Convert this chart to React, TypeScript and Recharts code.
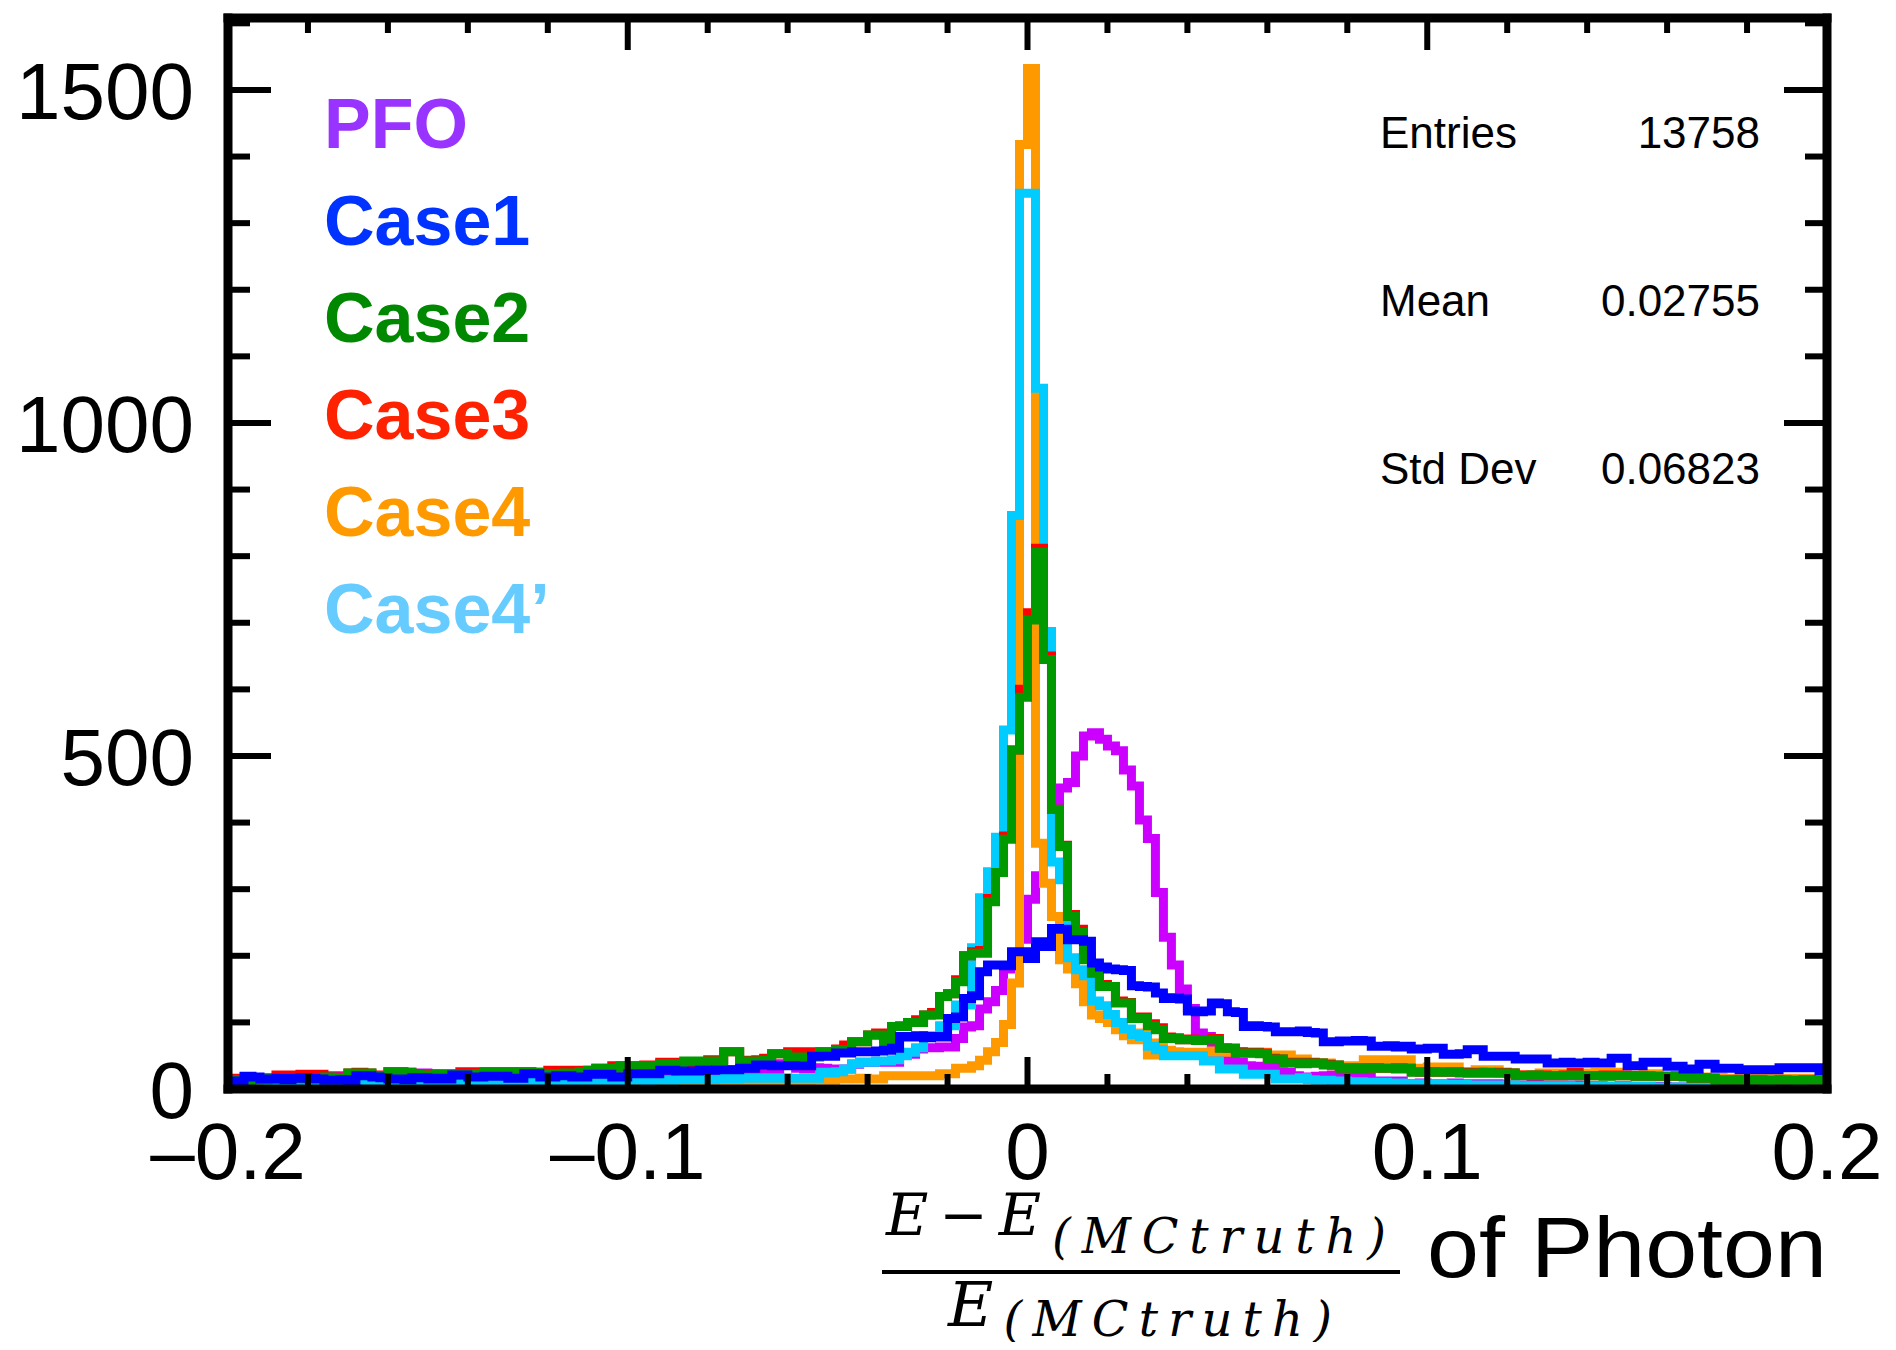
import React from 'react';
import { ComposedChart, Line, XAxis, YAxis } from 'recharts';

// 200 bins of 0.002 from -0.2 to 0.2
const binStart = -0.2;
const binWidth = 0.002;

const pfoCounts = [
  10, 12, 9, 11, 13, 10, 12, 11, 14, 12,
  13, 11, 20, 19, 20, 18, 12, 14, 13, 15,
  14, 16, 15, 24, 24, 22, 15, 17, 16, 18,
  17, 15, 19, 18, 17, 20, 19, 18, 17, 20,
  21, 19, 27, 27, 20, 22, 21, 23, 20, 22,
  21, 23, 22, 24, 23, 25, 24, 22, 24, 26,
  26, 24, 25, 29, 29, 27, 28, 30, 29, 38,
  38, 31, 30, 32, 31, 27, 30, 30, 37, 40,
  40, 41, 40, 40, 52, 52, 60, 62, 62, 63,
  63, 76, 93, 95, 120, 131, 148, 180, 205, 225,
  285, 320, 350, 395, 452, 460, 500, 530, 535, 525,
  515, 508, 479, 455, 404, 376, 295, 228, 186, 150,
  121, 84, 79, 54, 49, 42, 40, 35, 34, 33,
  34, 26, 25, 20, 18, 18, 19, 20, 21, 20,
  19, 18, 18, 12, 12, 11, 12, 8, 8, 9,
  8, 7, 8, 9, 7, 8, 8, 7, 8, 6,
  6, 5, 6, 7, 6, 5, 6, 5, 6, 5,
  4, 5, 4, 3, 5, 4, 4, 3, 4, 4,
  3, 2, 3, 3, 2, 3, 2, 3, 2, 2,
  3, 2, 2, 3, 2, 2, 3, 2, 2, 2,
];

const case1Counts = [
  11, 12, 19, 18, 15, 15, 16, 14, 16, 17,
  16, 15, 13, 13, 14, 12, 20, 20, 18, 17,
  15, 15, 14, 17, 17, 15, 16, 15, 21, 21,
  18, 18, 19, 19, 19, 16, 16, 23, 23, 18,
  18, 20, 20, 18, 18, 22, 22, 22, 18, 18,
  23, 23, 23, 23, 28, 28, 27, 27, 27, 28,
  28, 29, 29, 29, 31, 31, 36, 36, 35, 35,
  35, 35, 35, 49, 49, 49, 54, 54, 56, 56,
  56, 57, 58, 61, 79, 78, 80, 77, 79, 78,
  106, 108, 136, 140, 176, 186, 186, 185, 206, 206,
  196, 221, 214, 241, 240, 224, 224, 222, 189, 183,
  180, 179, 178, 155, 154, 153, 144, 136, 137, 135,
  117, 116, 117, 129, 128, 116, 115, 94, 95, 94,
  93, 86, 86, 86, 87, 85, 84, 71, 71, 72,
  72, 73, 72, 64, 64, 65, 63, 64, 60, 60,
  61, 61, 52, 52, 53, 59, 59, 49, 49, 49,
  49, 45, 45, 45, 45, 39, 39, 40, 39, 39,
  40, 39, 39, 46, 46, 35, 35, 40, 40, 40,
  34, 34, 30, 30, 37, 37, 31, 31, 31, 29,
  29, 29, 29, 29, 32, 32, 32, 32, 32, 27,
];

const case2Counts = [
  14, 14, 13, 15, 14, 16, 15, 17, 16, 15,
  17, 16, 18, 17, 16, 24, 24, 24, 20, 19,
  26, 26, 25, 22, 20, 21, 22, 20, 22, 21,
  22, 23, 26, 26, 25, 26, 26, 26, 25, 22,
  23, 22, 24, 24, 26, 28, 31, 31, 31, 35,
  35, 35, 35, 35, 38, 38, 38, 42, 42, 42,
  42, 42, 56, 56, 42, 42, 42, 43, 53, 53,
  48, 48, 48, 48, 56, 56, 59, 59, 71, 71,
  81, 81, 71, 94, 94, 100, 100, 111, 111, 139,
  143, 161, 200, 204, 204, 281, 325, 375, 509, 588,
  704, 806, 645, 420, 364, 259, 235, 194, 174, 154,
  154, 129, 129, 106, 106, 95, 89, 76, 76, 74,
  74, 73, 74, 74, 61, 61, 54, 54, 54, 53,
  45, 45, 39, 39, 38, 39, 39, 36, 36, 31,
  31, 30, 31, 32, 31, 31, 30, 31, 25, 25,
  25, 26, 25, 25, 24, 24, 24, 25, 24, 24,
  24, 20, 20, 21, 20, 20, 20, 20, 21, 20,
  20, 20, 19, 20, 20, 20, 19, 19, 19, 19,
  19, 19, 18, 16, 16, 16, 13, 13, 14, 13,
  13, 13, 12, 13, 13, 13, 12, 13, 13, 13,
];

const case3Counts = [
  16, 16, 16, 14, 15, 17, 21, 21, 21, 22,
  22, 22, 18, 17, 18, 24, 25, 24, 21, 20,
  26, 26, 25, 23, 21, 22, 23, 21, 23, 26,
  26, 26, 26, 26, 25, 26, 26, 26, 25, 23,
  28, 28, 28, 28, 26, 28, 31, 31, 35, 35,
  35, 35, 36, 36, 40, 40, 40, 38, 41, 41,
  44, 44, 56, 56, 43, 43, 44, 46, 53, 53,
  56, 56, 56, 49, 56, 56, 60, 66, 71, 71,
  81, 84, 75, 94, 95, 100, 104, 111, 115, 139,
  143, 164, 200, 206, 208, 286, 325, 380, 509, 600,
  715, 812, 650, 420, 366, 262, 240, 198, 174, 157,
  154, 132, 130, 106, 108, 98, 92, 78, 77, 74,
  75, 74, 74, 76, 62, 61, 56, 54, 55, 54,
  46, 45, 40, 40, 39, 40, 39, 37, 36, 32,
  31, 32, 31, 32, 31, 31, 32, 31, 26, 25,
  26, 25, 25, 26, 25, 24, 25, 24, 24, 25,
  24, 21, 21, 20, 21, 20, 20, 21, 25, 20,
  20, 20, 21, 20, 21, 20, 19, 20, 19, 19,
  19, 20, 19, 16, 17, 16, 14, 13, 14, 13,
  13, 14, 13, 13, 14, 13, 13, 14, 13, 13,
];

const case4Counts = [
  2, 1, 2, 2, 1, 2, 3, 2, 2, 3,
  2, 3, 2, 3, 3, 2, 3, 4, 3, 3,
  3, 4, 3, 4, 4, 3, 4, 5, 4, 4,
  5, 4, 5, 5, 4, 5, 6, 5, 5, 6,
  5, 6, 6, 5, 6, 7, 6, 6, 7, 7,
  6, 7, 7, 8, 8, 8, 7, 8, 9, 8,
  9, 9, 9, 10, 10, 10, 11, 11, 11, 11,
  10, 10, 10, 13, 13, 13, 15, 15, 15, 16,
  15, 15, 20, 20, 20, 20, 20, 20, 20, 23,
  23, 31, 31, 35, 43, 56, 70, 97, 159, 1418,
  1532, 369, 309, 259, 194, 180, 158, 131, 111, 106,
  100, 89, 80, 74, 84, 51, 69, 58, 56, 55,
  55, 54, 55, 57, 55, 61, 56, 54, 55, 55,
  51, 51, 51, 45, 45, 39, 39, 39, 35, 35,
  35, 35, 44, 44, 44, 44, 44, 44, 31, 31,
  33, 33, 33, 33, 26, 26, 29, 29, 29, 24,
  24, 21, 21, 21, 24, 24, 24, 24, 24, 24,
  24, 25, 25, 25, 21, 21, 21, 23, 23, 19,
  19, 19, 19, 19, 18, 18, 18, 16, 16, 16,
  16, 16, 16, 16, 16, 16, 16, 16, 13, 13,
];

const case4pCounts = [
  8, 6, 7, 9, 8, 7, 6, 8, 7, 9,
  8, 7, 9, 8, 10, 9, 8, 9, 10, 8,
  9, 10, 8, 10, 9, 11, 10, 9, 10, 11,
  10, 11, 9, 10, 12, 11, 10, 12, 5, 6,
  12, 11, 13, 12, 11, 12, 7, 12, 13, 12,
  13, 14, 12, 13, 14, 13, 14, 15, 14, 15,
  14, 15, 16, 15, 16, 17, 16, 17, 16, 17,
  16, 16, 16, 16, 25, 24, 26, 30, 38, 40,
  40, 42, 42, 44, 50, 55, 62, 80, 80, 95,
  95, 126, 126, 212, 287, 326, 378, 539, 861, 1345,
  1345, 1052, 687, 341, 314, 197, 179, 170, 132, 125,
  112, 100, 90, 82, 79, 64, 59, 50, 50, 50,
  50, 50, 42, 42, 30, 30, 30, 22, 22, 22,
  22, 15, 15, 15, 17, 14, 13, 13, 12, 12,
  11, 11, 10, 10, 10, 9, 9, 8, 8, 8,
  6, 8, 7, 7, 7, 6, 6, 6, 6, 5,
  6, 5, 5, 5, 5, 5, 4, 5, 4, 4,
  4, 4, 4, 4, 3, 4, 3, 4, 3, 3,
  3, 3, 3, 2, 3, 3, 2, 3, 2, 2,
  2, 3, 2, 2, 2, 3, 2, 2, 2, 2,
];

const seriesNames = ['PFO', 'Case1', 'Case2', 'Case3', 'Case4', 'Case4\u2019'];
const legendColors = ['#9933ff', '#0033ff', '#008800', '#ff2200', '#ff9900', '#66ccff'];

const xMajor = [-0.2, -0.1, 0, 0.1, 0.2];
const xLabels = ['\u20130.2', '\u20130.1', '0', '0.1', '0.2'];
const yMajor = [0, 500, 1000, 1500];
const yLabels = ['0', '500', '1000', '1500'];

const statNames = ['Entries', 'Mean', 'Std Dev'];
const statValues = ['13758', '0.02755', '0.06823'];

const rows = pfoCounts.map((_, i) => ({
  x: +(binStart + i * binWidth).toFixed(3),
  pfo: pfoCounts[i],
  case1: case1Counts[i],
  case2: case2Counts[i],
  case3: case3Counts[i],
  case4: case4Counts[i],
  case4p: case4pCounts[i],
}));
rows.push({
  x: 0.2,
  pfo: pfoCounts[199],
  case1: case1Counts[199],
  case2: case2Counts[199],
  case3: case3Counts[199],
  case4: case4Counts[199],
  case4p: case4pCounts[199],
});

const xTicks = Array.from({ length: 21 }, (_, k) => +(-0.2 + 0.02 * k).toFixed(2));
const yTicks = Array.from({ length: 17 }, (_, k) => k * 100);

const W = 1880;
const H = 1334;
const SANS = '"Liberation Sans", Arial, Helvetica, sans-serif';
const MATH = '"DejaVu Serif", "Liberation Serif", serif';
const frame = { stroke: '#000', strokeWidth: 9, strokeLinecap: 'square' as const };
const LINE_W = 9;

function xLabelFor(v: number) {
  const idx = xMajor.findIndex((m) => Math.abs(m - v) < 1e-6);
  return idx >= 0 ? xLabels[idx] : null;
}

function yLabelFor(v: number) {
  const idx = yMajor.indexOf(v);
  return idx >= 0 ? yLabels[idx] : null;
}

function BottomTick(props: any) {
  const { x, y, payload } = props;
  const label = xLabelFor(payload.value);
  return (
    <g>
      <line x1={x} x2={x} y1={y} y2={y - (label ? 32 : 15)} stroke="#000" strokeWidth={6} />
      {label && (
        <text x={x} y={y + 90} textAnchor="middle" fontSize={80} fontFamily={SANS} fill="#000">
          {label}
        </text>
      )}
    </g>
  );
}

function TopTick(props: any) {
  const { x, y, payload } = props;
  const major = xLabelFor(payload.value) !== null;
  return <line x1={x} x2={x} y1={y} y2={y + (major ? 32 : 15)} stroke="#000" strokeWidth={6} />;
}

function LeftTick(props: any) {
  const { x, y, payload } = props;
  const label = yLabelFor(payload.value);
  return (
    <g>
      <line x1={x} x2={x + (label ? 43 : 22)} y1={y} y2={y} stroke="#000" strokeWidth={6} />
      {label && (
        <text x={x - 34} y={y + 29} textAnchor="end" fontSize={80} fontFamily={SANS} fill="#000">
          {label}
        </text>
      )}
    </g>
  );
}

function RightTick(props: any) {
  const { x, y, payload } = props;
  const major = yLabelFor(payload.value) !== null;
  return <line x1={x} x2={x - (major ? 43 : 22)} y1={y} y2={y} stroke="#000" strokeWidth={6} />;
}

export default function App() {
  return (
    <div style={{ position: 'relative', width: W, height: H, background: '#fff' }}>
      <ComposedChart width={W} height={H} data={rows} margin={{ top: 0, right: 51, bottom: 243, left: 210 }}>
        <XAxis
          dataKey="x"
          type="number"
          domain={[-0.2, 0.2]}
          allowDataOverflow
          ticks={xTicks}
          interval={0}
          height={10}
          tickSize={0}
          tickMargin={0}
          tickLine={false}
          axisLine={frame}
          tick={(p: any) => <BottomTick {...p} />}
        />
        <XAxis
          xAxisId="top"
          orientation="top"
          dataKey="x"
          type="number"
          domain={[-0.2, 0.2]}
          allowDataOverflow
          ticks={xTicks}
          interval={0}
          height={10}
          tickSize={0}
          tickMargin={0}
          tickLine={false}
          axisLine={frame}
          tick={(p: any) => <TopTick {...p} />}
        />
        <YAxis
          type="number"
          domain={[0, 1608]}
          allowDataOverflow
          ticks={yTicks}
          interval={0}
          width={10}
          tickSize={0}
          tickMargin={0}
          tickLine={false}
          axisLine={frame}
          tick={(p: any) => <LeftTick {...p} />}
        />
        <YAxis
          yAxisId="right"
          orientation="right"
          type="number"
          domain={[0, 1608]}
          allowDataOverflow
          ticks={yTicks}
          interval={0}
          width={10}
          tickSize={0}
          tickMargin={0}
          tickLine={false}
          axisLine={frame}
          tick={(p: any) => <RightTick {...p} />}
        />
        <Line type="stepAfter" dataKey="pfo" stroke="#cc00ff" strokeWidth={LINE_W} strokeLinejoin="miter" dot={false} activeDot={false} isAnimationActive={false} />
        <Line type="stepAfter" dataKey="case4" stroke="#ff9900" strokeWidth={LINE_W} strokeLinejoin="miter" dot={false} activeDot={false} isAnimationActive={false} />
        <Line type="stepAfter" dataKey="case4p" stroke="#00ccff" strokeWidth={LINE_W} strokeLinejoin="miter" dot={false} activeDot={false} isAnimationActive={false} />
        <Line type="stepAfter" dataKey="case3" stroke="#ff0000" strokeWidth={LINE_W} strokeLinejoin="miter" dot={false} activeDot={false} isAnimationActive={false} />
        <Line type="stepAfter" dataKey="case2" stroke="#009900" strokeWidth={LINE_W} strokeLinejoin="miter" dot={false} activeDot={false} isAnimationActive={false} />
        <Line type="stepAfter" dataKey="case1" stroke="#0000ff" strokeWidth={LINE_W} strokeLinejoin="miter" dot={false} activeDot={false} isAnimationActive={false} />
      </ComposedChart>

      <svg width={W} height={H} style={{ position: 'absolute', left: 0, top: 0, pointerEvents: 'none', overflow: 'visible' }}>
        {seriesNames.map((name, k) => (
          <text key={name} x={316} y={140 + 97 * k} fill={legendColors[k]} fontSize={70} fontWeight="bold" fontFamily={SANS}>
            {name}
          </text>
        ))}

        {statNames.map((name, k) => (
          <g key={name}>
            <text x={1372} y={140 + 168 * k} fontSize={44} fontFamily={SANS} fill="#000">
              {name}
            </text>
            <text x={1752} y={140 + 168 * k} fontSize={44} fontFamily={SANS} fill="#000" textAnchor="end">
              {statValues[k]}
            </text>
          </g>
        ))}

        {/* x-axis title: (E - E_MCtruth) / E_MCtruth of Photon */}
        <text x={878} y={1227} fontSize={58} fontStyle="italic" fontFamily={MATH} fill="#000" textLength={500} lengthAdjust="spacing">
          <tspan>E{'\u2212'}E</tspan>
          <tspan fontSize={48} dy={18}>(MCtruth)</tspan>
        </text>
        <line x1={874} x2={1392} y1={1264} y2={1264} stroke="#000" strokeWidth={4} />
        <text x={940} y={1318} fontSize={62} fontStyle="italic" fontFamily={MATH} fill="#000" textLength={384} lengthAdjust="spacing">
          <tspan>E</tspan>
          <tspan fontSize={48} dy={10}>(MCtruth)</tspan>
        </text>
        <text x={1419} y={1269} fontSize={86} fontFamily={SANS} fill="#000" textLength={400} lengthAdjust="spacingAndGlyphs">
          of Photon
        </text>
      </svg>
    </div>
  );
}
